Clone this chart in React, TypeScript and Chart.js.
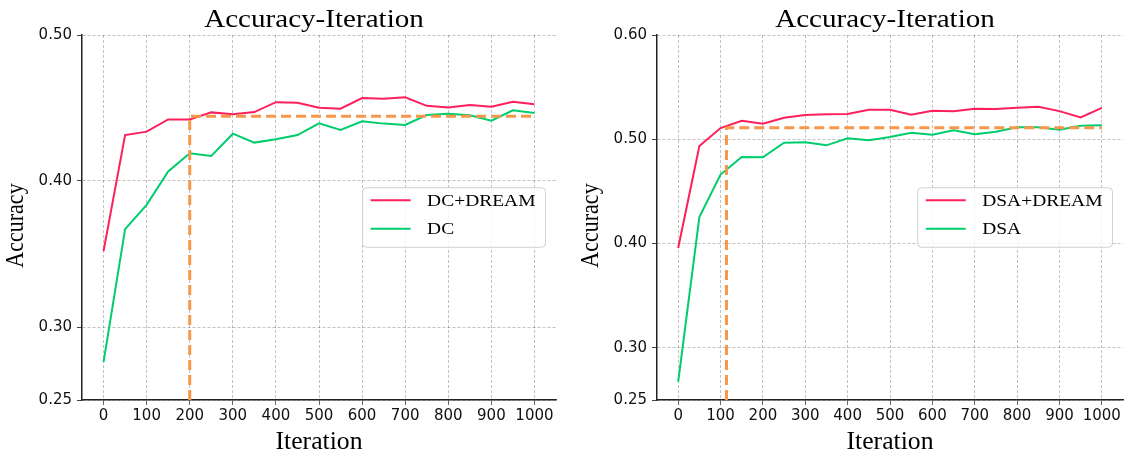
import React, { useEffect, useRef } from "react";
import { Chart, registerables } from "chart.js";

Chart.register(...registerables);

// ---------------- data ----------------
const iterations = [0, 50, 100, 150, 200, 250, 300, 350, 400, 450, 500, 550, 600, 650, 700, 750, 800, 850, 900, 950, 1000];

const dcDream = [0.352, 0.4315, 0.4338, 0.4422, 0.4422, 0.447, 0.4457, 0.4472, 0.454, 0.4536, 0.4502, 0.4495, 0.4568, 0.4563, 0.4573, 0.4515, 0.4504, 0.452, 0.4509, 0.4543, 0.4525];
const dc = [0.276, 0.367, 0.3837, 0.4065, 0.419, 0.4172, 0.4324, 0.4263, 0.4286, 0.4315, 0.4395, 0.435, 0.4409, 0.4393, 0.4384, 0.4452, 0.4461, 0.445, 0.4413, 0.4484, 0.4466];

const dsaDream = [0.3958, 0.4936, 0.5108, 0.5178, 0.5149, 0.5207, 0.5232, 0.5239, 0.5242, 0.5283, 0.5283, 0.5235, 0.5273, 0.5268, 0.5293, 0.529, 0.5302, 0.5312, 0.527, 0.521, 0.5302];
const dsa = [0.2673, 0.4254, 0.4662, 0.4831, 0.4828, 0.4967, 0.4971, 0.4942, 0.501, 0.499, 0.5022, 0.5063, 0.5044, 0.5086, 0.5048, 0.5073, 0.5115, 0.5115, 0.5092, 0.513, 0.5134];

const xTicks = [0, 100, 200, 300, 400, 500, 600, 700, 800, 900, 1000];
const yTicksLeft = [0.25, 0.3, 0.4, 0.5];
const yTicksRight = [0.25, 0.3, 0.4, 0.5, 0.6];

// reference (orange dashed) guide: [x where vertical drops, accuracy level, end x]
const refLeft = [200, 0.4443, 1000];
const refRight = [114, 0.511, 1000];

const labelsLeft = ["DC+DREAM", "DC"];
const labelsRight = ["DSA+DREAM", "DSA"];

const titleText = "Accuracy-Iteration";
const xTitle = "Iteration";
const yTitle = "Accuracy";

// ---------------- style ----------------
const SERIF = "'Liberation Serif', 'Times New Roman', serif";
const SANS = "'DejaVu Sans', sans-serif";
const RED = "#FF1F5B";
const GREEN = "#00CD6C";
const ORANGE = "#F5984C";
const GRID = "rgba(0,0,0,0.3)";
const AXIS = "#222222";

function drawText(
  ctx: CanvasRenderingContext2D,
  text: string,
  x: number,
  y: number,
  opts: { font: string; sx?: number; sy?: number; rot?: number; align?: CanvasTextAlign; baseline?: CanvasTextBaseline }
) {
  ctx.save();
  ctx.translate(x, y);
  if (opts.rot) ctx.rotate(opts.rot);
  ctx.scale(opts.sx ?? 1, opts.sy ?? 1);
  ctx.font = opts.font;
  ctx.fillStyle = "#000";
  ctx.textAlign = opts.align ?? "center";
  ctx.textBaseline = opts.baseline ?? "alphabetic";
  ctx.fillText(text, 0, 0);
  ctx.restore();
}

const textPlugin = {
  id: "textDecor",
  afterDraw(chart: any) {
    const { ctx, chartArea } = chart;
    const cx = (chartArea.left + chartArea.right) / 2;
    const cy = (chartArea.top + chartArea.bottom) / 2;
    drawText(ctx, titleText, cx - 5, 27, { font: `25.3px ${SERIF}`, sx: 1.15 });
    drawText(ctx, xTitle, cx, 449, { font: `25.7px ${SERIF}` });
    drawText(ctx, yTitle, chartArea.left - 58.7, cy + 8, { font: `22px ${SERIF}`, sy: 1.15, rot: -Math.PI / 2 });
  },
};

const legendPlugin = {
  id: "boxLegend",
  afterDraw(chart: any) {
    const { ctx, chartArea } = chart;
    const items = chart.data.datasets.filter((d: any) => d.inLegend);
    const sx = 1.12;
    const font = `17.4px ${SERIF}`;
    ctx.save();
    ctx.font = font;
    const textW = Math.max(...items.map((d: any) => ctx.measureText(d.label).width)) * sx;
    const padL = 8, lineW = 40, gap = 16.5, padR = 10, padT = 12.5, rowH = 28.5, padB = 18.5;
    const w = padL + lineW + gap + textW + padR;
    const h = padT + rowH * (items.length - 1) + padB;
    const x = chartArea.right - 10.5 - w;
    const y = (chartArea.top + chartArea.bottom) / 2 - h / 2;
    ctx.beginPath();
    (ctx as any).roundRect(x, y, w, h, 4);
    ctx.fillStyle = "rgba(255,255,255,0.8)";
    ctx.fill();
    ctx.lineWidth = 1;
    ctx.strokeStyle = "#d0d0d0";
    ctx.stroke();
    items.forEach((d: any, i: number) => {
      const ry = y + padT + i * rowH;
      ctx.beginPath();
      ctx.strokeStyle = d.borderColor;
      ctx.lineWidth = 2;
      ctx.moveTo(x + padL, ry);
      ctx.lineTo(x + padL + lineW, ry);
      ctx.stroke();
      drawText(ctx, d.label, x + padL + lineW + gap, ry + 1, { font, sx, align: "left", baseline: "middle" });
    });
    ctx.restore();
  },
};

function buildConfig(labels: string[], a: number[], b: number[], ref: number[], yTicks: number[]) {
  const yMin = yTicks[0];
  const yMax = yTicks[yTicks.length - 1];
  const toPts = (arr: number[]) => iterations.map((x, i) => ({ x, y: arr[i] }));
  return {
    type: "line" as const,
    data: {
      datasets: [
        {
          label: "ref",
          data: [
            { x: ref[0], y: yMin },
            { x: ref[0], y: ref[1] },
            { x: ref[2], y: ref[1] },
          ],
          borderColor: ORANGE,
          borderWidth: 3,
          borderDash: [10, 5],
          pointRadius: 0,
          fill: false,
          inLegend: false,
        },
        {
          label: labels[0],
          data: toPts(a),
          borderColor: RED,
          borderWidth: 2,
          pointRadius: 0,
          fill: false,
          inLegend: true,
        },
        {
          label: labels[1],
          data: toPts(b),
          borderColor: GREEN,
          borderWidth: 2,
          pointRadius: 0,
          fill: false,
          inLegend: true,
        },
      ],
    },
    options: {
      animation: false,
      responsive: false,
      events: [],
      layout: { padding: { top: 35, right: 9, left: 0, bottom: 0 } },
      plugins: { legend: { display: false }, tooltip: { enabled: false }, title: { display: false } },
      scales: {
        x: {
          type: "linear",
          min: -50,
          max: 1050,
          afterBuildTicks: (s: any) => {
            s.ticks = xTicks.map((v) => ({ value: v }));
          },
          afterFit: (s: any) => {
            s.height = 54;
          },
          grid: {
            color: GRID,
            lineWidth: 0.8,
            drawTicks: true,
            tickLength: 5,
            tickColor: "#666",
            tickWidth: 1,
            tickBorderDash: [],
          },
          border: { display: true, color: AXIS, width: 1.5, dash: [3, 2] },
          ticks: {
            autoSkip: false,
            maxRotation: 0,
            padding: 2,
            color: "#111",
            font: { family: SANS, size: 15 },
            callback: (v: any) => String(v),
          },
          title: { display: false },
        },
        y: {
          type: "linear",
          min: yMin,
          max: yMax,
          afterBuildTicks: (s: any) => {
            s.ticks = yTicks.map((v) => ({ value: v }));
          },
          afterFit: (s: any) => {
            s.width = 82;
          },
          grid: {
            color: GRID,
            lineWidth: 0.8,
            drawTicks: true,
            tickLength: 5,
            tickColor: "#444",
            tickWidth: 1,
            tickBorderDash: [],
          },
          border: { display: true, color: AXIS, width: 1.5, dash: [3, 2] },
          ticks: {
            padding: 5,
            color: "#111",
            font: { family: SANS, size: 15 },
            callback: (v: any) => Number(v).toFixed(2),
          },
          title: { display: false },
        },
      },
    },
    plugins: [textPlugin, legendPlugin],
  };
}

function Panel(props: { left: number; width: number; labels: string[]; a: number[]; b: number[]; refLine: number[]; yTicks: number[] }) {
  const ref = useRef<HTMLCanvasElement | null>(null);
  useEffect(() => {
    if (!ref.current) return;
    const chart = new Chart(ref.current, buildConfig(props.labels, props.a, props.b, props.refLine, props.yTicks) as any);
    return () => chart.destroy();
  }, []);
  return (
    <canvas
      ref={ref}
      width={props.width}
      height={454}
      style={{ position: "absolute", left: props.left, top: 0, width: props.width, height: 454, display: "block" }}
    />
  );
}

export default function App() {
  return (
    <div style={{ position: "absolute", left: 0, top: 0, width: 1129, height: 454, overflow: "hidden", background: "#fff" }}>
      <Panel left={0} width={565} labels={labelsLeft} a={dcDream} b={dc} refLine={refLeft} yTicks={yTicksLeft} />
      <Panel left={575} width={557} labels={labelsRight} a={dsaDream} b={dsa} refLine={refRight} yTicks={yTicksRight} />
    </div>
  );
}
